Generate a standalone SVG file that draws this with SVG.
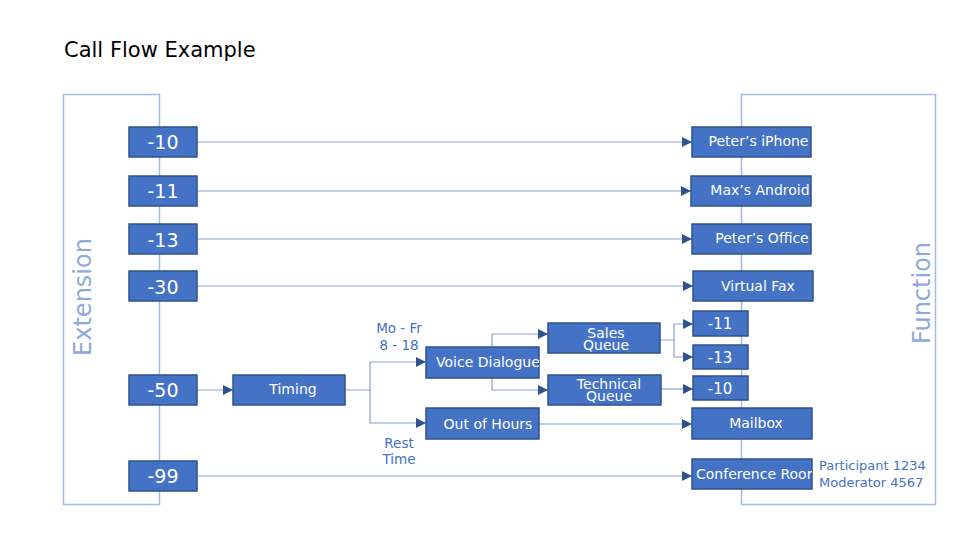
<svg xmlns="http://www.w3.org/2000/svg" width="977" height="542" viewBox="0 0 977 542">
<style>
text{font-family:"DejaVu Sans","Liberation Sans",sans-serif}
.bk{fill:none;stroke:#a4b9e3;stroke-width:1.5}
.sec{fill:#8eaadb;font-size:24px}
.box{fill:#4472c4;stroke:#2f528f;stroke-width:1.5}
.ext{fill:#fff;font-size:19px;text-anchor:middle}
.lbl{fill:#fff;font-size:14px;text-anchor:middle}
.lbs{fill:#fff;font-size:14px}
.num{fill:#fff;font-size:15px;text-anchor:middle}
.note{fill:#4472c4;font-size:13.5px;text-anchor:middle}
.side{fill:#4472c4;font-size:13px}
.cn{fill:none;stroke:#8b9fcd;stroke-width:1.2}
</style>
<defs>
<marker id="ar" markerUnits="userSpaceOnUse" viewBox="0 0 10 10" refX="10" refY="5" markerWidth="10" markerHeight="11" orient="auto">
<path d="M0,0 L10,5 L0,10 z" fill="#2f528f"/>
</marker>
<clipPath id="cVD"><rect x="426" y="347" width="113" height="31"/></clipPath>
<clipPath id="cCR"><rect x="692" y="459" width="120" height="30"/></clipPath>
</defs>
<rect width="977" height="542" fill="#fff"/>
<text x="64" y="57" font-size="21" fill="#000">Call Flow Example</text>
<g id="extension-group">
<rect class="bk" x="63.5" y="94.5" width="96" height="410"/>
<text class="sec" transform="translate(91,297) rotate(-90)" text-anchor="middle">Extension</text>
</g>
<g id="function-group">
<rect class="bk" x="741.5" y="94.5" width="194" height="410"/>
<text class="sec" transform="translate(930,293) rotate(-90)" text-anchor="middle">Function</text>
</g>
<g id="connectors">
<path class="cn" d="M197,142 H692" marker-end="url(#ar)"/>
<path class="cn" d="M197,191 H691" marker-end="url(#ar)"/>
<path class="cn" d="M197,239 H692" marker-end="url(#ar)"/>
<path class="cn" d="M197,286 H693" marker-end="url(#ar)"/>
<path class="cn" d="M197,390 H233" marker-end="url(#ar)"/>
<path class="cn" d="M345,390 H370 V362 H426" marker-end="url(#ar)"/>
<path class="cn" d="M370,390 V423 H426" marker-end="url(#ar)"/>
<path class="cn" d="M492,347 V334 H548" marker-end="url(#ar)"/>
<path class="cn" d="M492,378 V390 H548" marker-end="url(#ar)"/>
<path class="cn" d="M660,340 H674 V324 H693" marker-end="url(#ar)"/>
<path class="cn" d="M674,340 V357 H693" marker-end="url(#ar)"/>
<path class="cn" d="M661,389 H693" marker-end="url(#ar)"/>
<path class="cn" d="M539,424 H692" marker-end="url(#ar)"/>
<path class="cn" d="M197,476 H692" marker-end="url(#ar)"/>
</g>
<g id="ext-10"><rect class="box" x="129" y="127" width="68" height="30"/><text class="ext" x="163" y="149">-10</text></g>
<g id="ext-11"><rect class="box" x="129" y="176" width="68" height="30"/><text class="ext" x="163" y="198">-11</text></g>
<g id="ext-13"><rect class="box" x="129" y="224" width="68" height="30"/><text class="ext" x="163" y="246.5">-13</text></g>
<g id="ext-30"><rect class="box" x="129" y="271" width="68" height="30"/><text class="ext" x="163" y="293.5">-30</text></g>
<g id="ext-50"><rect class="box" x="129" y="375" width="68" height="30"/><text class="ext" x="163" y="397">-50</text></g>
<g id="ext-99"><rect class="box" x="129" y="461" width="68" height="30"/><text class="ext" x="163" y="483">-99</text></g>
<g id="timing"><rect class="box" x="233" y="375" width="112" height="30"/><text class="lbl" x="293" y="394">Timing</text></g>
<g id="voice-dialogue"><rect class="box" x="426" y="347" width="113" height="31"/><text class="lbs" x="436" y="367" clip-path="url(#cVD)">Voice Dialogue</text></g>
<g id="out-of-hours"><rect class="box" x="426" y="408" width="113" height="31"/><text class="lbl" x="488" y="428.5">Out of Hours</text></g>
<g id="sales-queue"><rect class="box" x="548" y="323" width="112" height="30"/><text class="lbl" x="606" y="337.7">Sales</text><text class="lbl" x="606" y="349.5">Queue</text></g>
<g id="technical-queue"><rect class="box" x="548" y="375" width="113" height="30"/><text class="lbl" x="609" y="389.3">Technical</text><text class="lbl" x="609" y="401.3">Queue</text></g>
<g id="peters-iphone"><rect class="box" x="692" y="127" width="119" height="30"/><text class="lbl" x="758.5" y="146">Peter’s iPhone</text></g>
<g id="maxs-android"><rect class="box" x="691" y="176" width="120" height="30"/><text class="lbl" x="760" y="195">Max’s Android</text></g>
<g id="peters-office"><rect class="box" x="692" y="224" width="119" height="30"/><text class="lbl" x="762" y="243.3">Peter’s Office</text></g>
<g id="virtual-fax"><rect class="box" x="693" y="271" width="120" height="30"/><text class="lbl" x="758" y="290.7">Virtual Fax</text></g>
<g id="fn-11"><rect class="box" x="693" y="311" width="55" height="25"/><text class="num" x="720" y="329.3">-11</text></g>
<g id="fn-13"><rect class="box" x="693" y="345" width="55" height="24"/><text class="num" x="720" y="362.7">-13</text></g>
<g id="fn-10"><rect class="box" x="693" y="376" width="55" height="24"/><text class="num" x="720" y="394.3">-10</text></g>
<g id="mailbox"><rect class="box" x="692" y="408" width="120" height="31"/><text class="lbl" x="756" y="428.3">Mailbox</text></g>
<g id="conference-room"><rect class="box" x="692" y="459" width="120" height="30"/><text class="lbs" x="696" y="479" clip-path="url(#cCR)">Conference Room</text></g>
<g id="labels">
<text class="note" x="399" y="333.3">Mo - Fr</text>
<text class="note" x="399" y="350">8 - 18</text>
<text class="note" x="399" y="447.7">Rest</text>
<text class="note" x="399" y="464">Time</text>
<text class="side" x="819" y="469.5">Participant 1234</text>
<text class="side" x="819" y="487">Moderator 4567</text>
</g>
</svg>
